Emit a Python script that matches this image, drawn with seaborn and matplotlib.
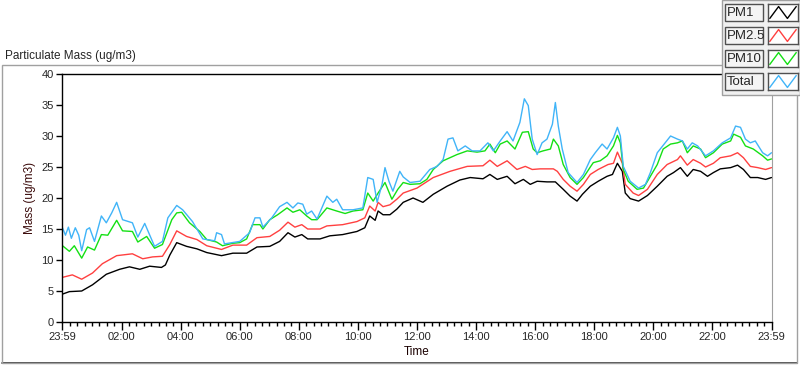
import matplotlib
matplotlib.use("Agg")
import matplotlib.pyplot as plt
from matplotlib.patches import Rectangle
from matplotlib.lines import Line2D
import pandas as pd
import seaborn as sns

series_names = ["PM1", "PM2.5", "PM10", "Total"]
series_colors = ["#000000", "#ff4040", "#14e014", "#40b4f8"]

# (minutes since 23:59, mass ug/m3)
pm1 = [(0, 4.5), (14, 4.9), (39, 5.0), (61, 6.0), (89, 7.7), (116, 8.5), (136, 8.9),
       (157, 8.5), (177, 9.0), (201, 8.8), (209, 9.2), (218, 10.8), (232, 12.8), (252, 12.2),
       (273, 11.8), (293, 11.2), (323, 10.7), (346, 11.1), (374, 11.1), (395, 12.1), (421, 12.2),
       (441, 13.0), (458, 14.4), (472, 13.7), (486, 14.1), (498, 13.4), (523, 13.4), (543, 13.9),
       (569, 14.1), (598, 14.6), (614, 15.2), (624, 17.1), (635, 16.4), (641, 17.9), (651, 17.3),
       (665, 17.3), (679, 18.2), (692, 19.3), (712, 20.0), (732, 19.3), (753, 20.6), (781, 21.9),
       (807, 22.9), (828, 23.3), (854, 23.1), (868, 23.8), (883, 23.0), (903, 23.5), (919, 22.3),
       (936, 23.0), (950, 22.2), (964, 22.7), (984, 22.6), (1001, 22.6), (1017, 21.4), (1031, 20.3),
       (1045, 19.5), (1056, 20.6), (1072, 21.9), (1088, 22.7), (1106, 23.5), (1117, 23.8),
       (1127, 25.6), (1137, 24.3), (1143, 20.8), (1153, 19.9), (1170, 19.5), (1188, 20.4),
       (1208, 21.9), (1228, 23.5), (1241, 24.1), (1255, 24.9), (1269, 23.5), (1281, 24.6),
       (1296, 24.3), (1310, 23.5), (1322, 24.1), (1336, 24.7), (1357, 24.9), (1371, 25.3),
       (1383, 24.6), (1397, 23.3), (1412, 23.3), (1428, 23.0), (1440, 23.3)]

pm25 = [(0, 7.2), (20, 7.6), (39, 6.9), (61, 7.9), (81, 9.4), (110, 10.7), (142, 11.0),
        (163, 10.2), (183, 10.5), (203, 10.6), (218, 12.5), (232, 14.7), (252, 13.8), (273, 13.3),
        (293, 12.3), (323, 11.7), (346, 12.4), (374, 12.4), (395, 13.6), (421, 13.8), (441, 14.8),
        (458, 16.1), (472, 15.3), (486, 15.7), (498, 15.0), (523, 15.0), (537, 15.5), (569, 15.7),
        (598, 16.2), (614, 16.8), (624, 18.7), (635, 17.9), (641, 19.3), (651, 18.6), (665, 18.9),
        (679, 19.8), (692, 20.8), (706, 21.2), (720, 21.6), (753, 23.3), (787, 24.3), (822, 25.1),
        (854, 25.2), (868, 26.1), (883, 25.1), (903, 26.0), (923, 24.6), (940, 25.1), (954, 24.6),
        (970, 24.7), (997, 24.7), (1005, 24.3), (1017, 23.0), (1031, 21.9), (1045, 21.1),
        (1058, 22.2), (1072, 23.8), (1088, 24.6), (1108, 25.4), (1119, 25.6), (1127, 27.4),
        (1137, 25.6), (1143, 22.2), (1159, 20.8), (1170, 20.4), (1188, 21.4), (1208, 23.8),
        (1228, 25.4), (1249, 26.2), (1255, 26.8), (1269, 25.3), (1281, 26.2), (1296, 25.6),
        (1306, 25.0), (1322, 25.6), (1336, 26.5), (1357, 26.8), (1371, 27.3), (1383, 26.5),
        (1397, 25.1), (1412, 24.9), (1428, 24.6), (1440, 24.9)]

pm10 = [(0, 12.3), (14, 11.4), (24, 12.3), (39, 10.3), (51, 12.1), (65, 11.6), (79, 14.1),
        (92, 14.0), (110, 16.4), (122, 14.7), (142, 14.6), (153, 12.9), (171, 13.8), (187, 11.9),
        (203, 12.5), (222, 16.5), (232, 17.6), (242, 17.7), (258, 16.0), (279, 14.6), (293, 13.3),
        (313, 12.9), (325, 12.3), (346, 12.7), (360, 12.8), (374, 13.4), (386, 15.7), (401, 15.7),
        (407, 15.0), (421, 16.5), (437, 17.3), (456, 18.4), (468, 17.7), (482, 18.1), (496, 17.1),
        (506, 16.5), (517, 16.5), (537, 18.4), (557, 17.9), (574, 17.5), (590, 17.9), (610, 18.1),
        (620, 20.8), (631, 19.5), (641, 20.8), (655, 22.5), (669, 19.8), (681, 21.4), (692, 22.5),
        (706, 22.2), (726, 22.3), (740, 23.0), (753, 24.6), (773, 26.0), (801, 27.0), (822, 27.6),
        (842, 27.4), (858, 27.6), (868, 28.7), (879, 27.3), (889, 28.7), (903, 29.2), (919, 27.9),
        (934, 30.6), (946, 30.7), (956, 27.9), (964, 27.3), (976, 27.6), (991, 27.9), (997, 29.5),
        (1007, 28.4), (1017, 25.4), (1031, 23.3), (1045, 22.2), (1058, 23.3), (1072, 25.0),
        (1078, 25.7), (1092, 26.0), (1106, 26.8), (1119, 28.4), (1127, 30.1), (1133, 28.9),
        (1139, 24.6), (1149, 22.7), (1167, 21.4), (1180, 21.6), (1194, 23.5), (1208, 25.4),
        (1220, 27.9), (1235, 28.7), (1249, 28.9), (1259, 29.2), (1269, 27.3), (1281, 28.4),
        (1296, 27.9), (1306, 26.5), (1322, 27.3), (1340, 28.7), (1357, 29.2), (1363, 30.3),
        (1377, 29.8), (1387, 28.4), (1403, 27.9), (1422, 26.8), (1432, 26.1), (1440, 26.3)]

total = [(0, 15.2), (6, 14.0), (12, 15.3), (18, 13.5), (26, 15.2), (33, 14.0), (39, 11.5),
         (49, 14.9), (55, 15.2), (65, 13.0), (79, 17.1), (89, 16.0), (100, 17.6), (110, 19.3),
         (122, 16.5), (142, 16.0), (153, 13.7), (167, 15.9), (187, 12.2), (203, 13.0), (214, 16.8),
         (232, 18.8), (244, 18.1), (264, 16.2), (285, 13.4), (309, 13.1), (313, 14.4), (323, 14.1),
         (329, 12.6), (360, 13.0), (380, 14.4), (391, 16.8), (401, 16.8), (407, 15.3), (425, 16.8),
         (441, 18.6), (456, 19.3), (468, 18.4), (478, 19.2), (488, 19.0), (496, 17.4), (506, 17.9),
         (517, 16.6), (537, 20.3), (549, 19.3), (557, 19.8), (569, 18.1), (590, 18.1), (610, 18.4),
         (620, 23.3), (631, 23.0), (639, 19.3), (649, 22.2), (655, 24.9), (663, 22.7), (671, 21.1),
         (685, 24.3), (692, 23.4), (706, 22.5), (726, 22.7), (746, 24.6), (761, 25.1), (773, 26.2),
         (783, 29.5), (793, 29.7), (803, 27.6), (818, 28.4), (832, 27.6), (848, 27.6), (864, 28.9),
         (875, 27.6), (889, 29.2), (903, 30.7), (915, 29.2), (929, 32.2), (938, 36.0), (946, 34.9),
         (954, 29.5), (964, 27.0), (974, 28.9), (984, 29.5), (995, 31.9), (1001, 35.4), (1007, 31.6),
         (1015, 27.9), (1027, 24.1), (1045, 22.5), (1058, 23.8), (1072, 26.2), (1082, 27.3),
         (1096, 28.7), (1106, 27.9), (1119, 29.7), (1127, 31.4), (1133, 30.0), (1139, 25.1),
         (1153, 22.7), (1170, 21.6), (1184, 22.2), (1194, 24.1), (1208, 27.3), (1224, 28.9),
         (1235, 30.0), (1249, 29.5), (1259, 29.2), (1269, 27.9), (1279, 28.9), (1290, 28.4),
         (1306, 26.8), (1322, 27.6), (1340, 28.9), (1357, 29.7), (1367, 31.6), (1377, 31.4),
         (1387, 29.5), (1397, 28.9), (1407, 29.2), (1422, 27.3), (1432, 26.8), (1440, 27.3)]

x_tick_labels = ["23:59", "02:00", "04:00", "06:00", "08:00", "10:00", "12:00",
                 "14:00", "16:00", "18:00", "20:00", "22:00", "23:59"]

rows = []
for name, pts in zip(series_names, [pm1, pm25, pm10, total]):
    for m, v in pts:
        rows.append({"minute": m, "mass": v, "series": name})
df = pd.DataFrame(rows)

sns.set_style("white")
plt.rcParams["font.family"] = ["Liberation Sans", "DejaVu Sans"]

W, H = 800, 365
fig = plt.figure(figsize=(W / 100, H / 100), dpi=100)


def box(x0, y0, x1, y1):
    # pixel box (top-left origin) -> figure fraction rect
    return [x0 / W, 1 - y1 / H, (x1 - x0) / W, (y1 - y0) / H]


# outer panel frame
fig.patches.append(Rectangle((2 / W, 1 - 363 / H), 795 / W, 298 / H, transform=fig.transFigure,
                             facecolor="none", edgecolor="#a0a0a0", lw=1, zorder=0))
fig.lines.append(Line2D([2 / W, 797 / W], [1 - 363 / H, 1 - 363 / H], transform=fig.transFigure,
                        color="#303030", lw=1.2, zorder=0))
fig.text(5 / W, 1 - 56 / H, "Particulate Mass (ug/m3)", fontsize=8.5, va="center", ha="left")

ax = fig.add_axes(box(62, 74, 772, 322))
sns.lineplot(data=df, x="minute", y="mass", hue="series", hue_order=series_names,
             palette=series_colors, estimator=None, sort=False, linewidth=1, legend=False, ax=ax)
ax.set_xlim(-1, 1441)
ax.set_ylim(0, 40)
ax.set_yticks(range(0, 41, 5))
ax.set_xticks(range(0, 1441, 120))
ax.set_xticklabels(x_tick_labels)
ax.set_xticks(range(0, 1441, 15), minor=True)
ax.tick_params(axis="x", which="major", bottom=True, length=6, width=1, color="black",
               labelsize=8, pad=1)
ax.tick_params(axis="x", which="minor", bottom=True, length=3, width=1, color="black")
ax.tick_params(axis="y", left=True, length=4, width=1, color="black", labelsize=8, pad=2)
for s in ["top", "left", "bottom"]:
    ax.spines[s].set_color("black")
    ax.spines[s].set_linewidth(1)
ax.spines["right"].set_color("#a0a0a0")
ax.set_xlabel("Time", fontsize=8.5, color="#1a0000", labelpad=3)
ax.set_ylabel("Mass (ug/m3)", fontsize=8.5, color="#3a0a0a", labelpad=4)

# legend panel in the top right corner
fig.patches.append(Rectangle((722 / W, 1 - 95 / H), 78 / W, 95 / H, transform=fig.transFigure,
                             facecolor="#f0f0f0", edgecolor="#a0a0a0", lw=1, zorder=1))
for i, (name, col) in enumerate(zip(series_names, series_colors)):
    y0 = 4 + 23 * i
    y1 = y0 + 17
    fig.patches.append(Rectangle((725 / W, 1 - y1 / H), 38 / W, 17 / H, transform=fig.transFigure,
                                 facecolor="#f4f4f4", edgecolor="#505050", lw=1, zorder=2))
    fig.text(727 / W, 1 - (y0 + 9) / H, name, fontsize=9.5, va="center", ha="left", zorder=3)
    sub = fig.add_axes(box(768, y0, 798, y1))
    sub.set_zorder(5)
    sub.set_facecolor("white")
    sub.plot([0, 1, 2, 3], [0.15, 0.85, 0.15, 0.85], color=col, lw=1)
    sub.set_xlim(-0.2, 3.2)
    sub.set_ylim(0, 1)
    sub.set_xticks([])
    sub.set_yticks([])
    for s in sub.spines.values():
        s.set_visible(True)
        s.set_color("#505050")
        s.set_linewidth(1)

fig.savefig("out.png", dpi=100)
